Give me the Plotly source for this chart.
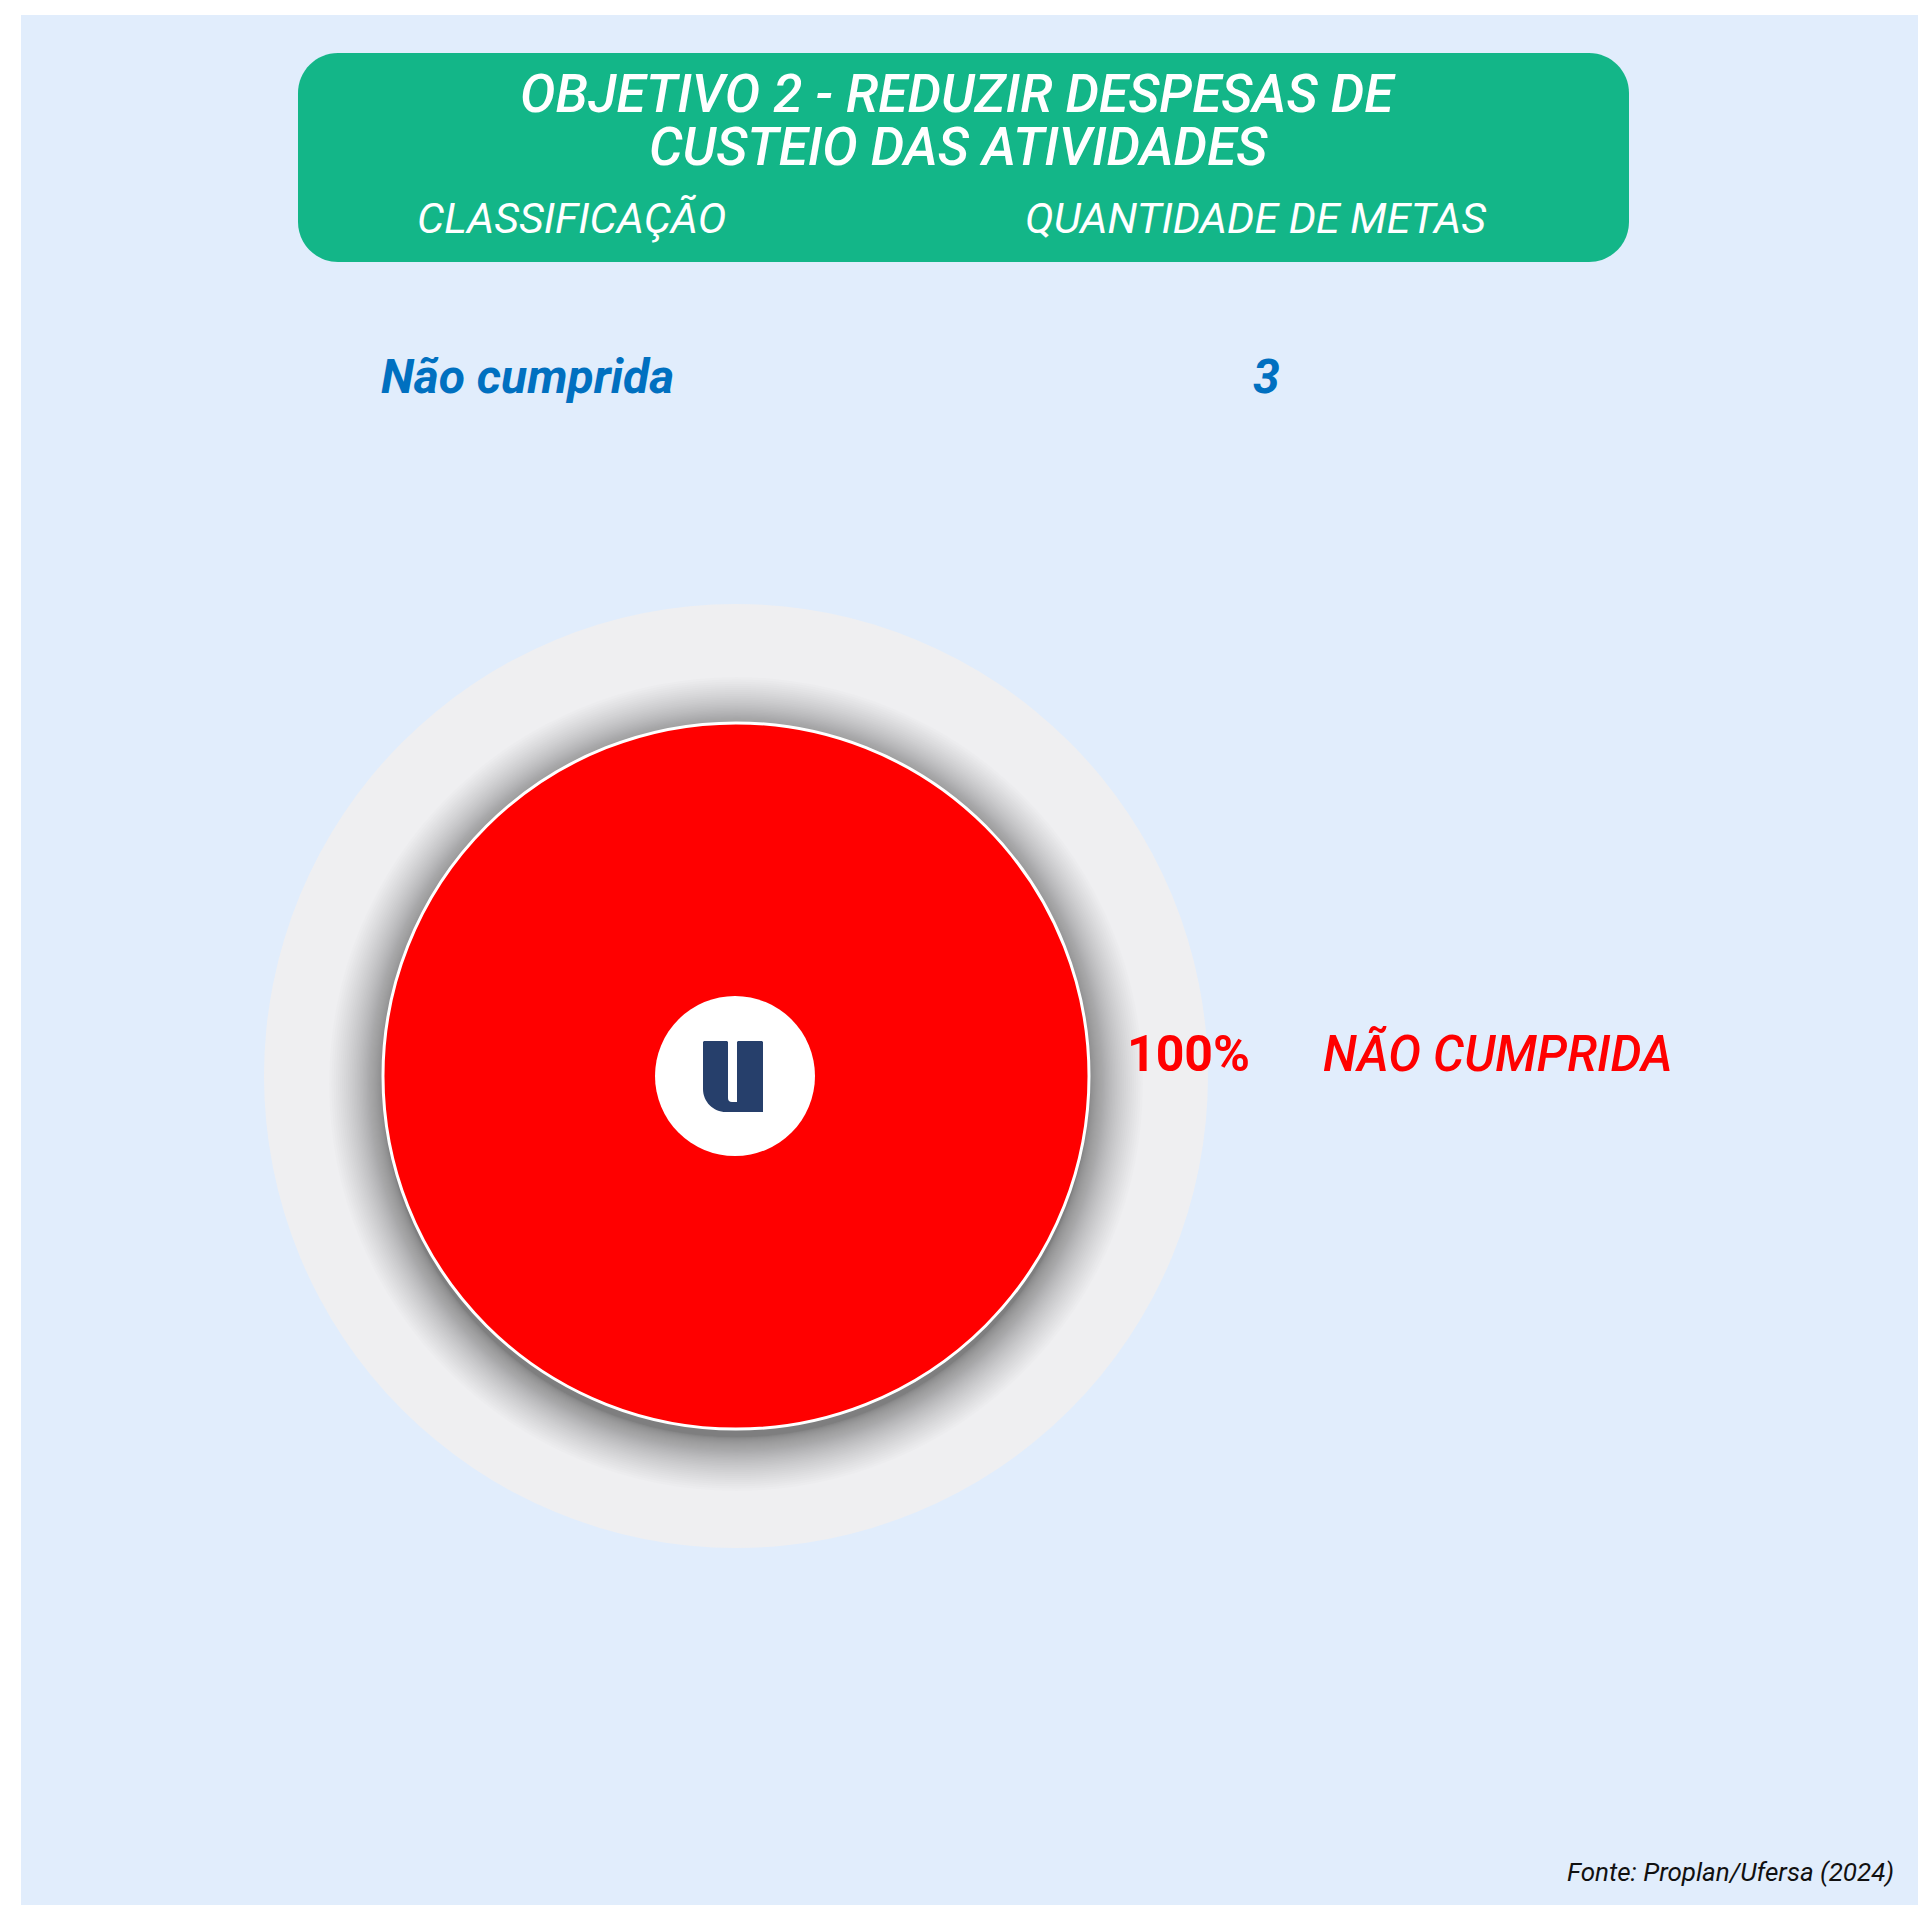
import plotly.graph_objects as go

# ---------------- data ----------------
title_lines = ["OBJETIVO 2 - REDUZIR DESPESAS DE", "CUSTEIO DAS ATIVIDADES"]
header_labels = ["CLASSIFICAÇÃO", "QUANTIDADE DE METAS"]
categories = ["Não cumprida"]
metas = [3]
slice_colors = ["#FF0000"]
source_text = "Fonte: Proplan/Ufersa (2024)"

# ---------------- geometry helpers ----------------
W, H = 1918, 1897


def px(x):
    return x / W


def py(y):
    return 1 - y / H


BG = "#E1EDFC"
GREEN = "#13B688"
BLUE_TXT = "#0070C0"
RED = "#FF0000"
NAVY = "#263F6B"
RING = "#EFEFF1"

cx, cy, r_pie, r_ring = 728, 1068, 353, 472

shapes = []
# page background panel
shapes.append(dict(type="rect", xref="paper", yref="paper", x0=px(13), x1=px(W), y0=py(H), y1=py(7),
                   fillcolor=BG, line=dict(width=0), layer="below"))

# green header box with rounded corners
bx0, bx1, by0, by1, rad = 290, 1621, 45, 254, 40
k = 0.5523 * rad


def P(x, y):
    return f"{px(x):.6f},{py(y):.6f}"


path = (f"M{P(bx0 + rad, by0)} L{P(bx1 - rad, by0)} "
        f"C{P(bx1 - rad + k, by0)} {P(bx1, by0 + rad - k)} {P(bx1, by0 + rad)} "
        f"L{P(bx1, by1 - rad)} "
        f"C{P(bx1, by1 - rad + k)} {P(bx1 - rad + k, by1)} {P(bx1 - rad, by1)} "
        f"L{P(bx0 + rad, by1)} "
        f"C{P(bx0 + rad - k, by1)} {P(bx0, by1 - rad + k)} {P(bx0, by1 - rad)} "
        f"L{P(bx0, by0 + rad)} "
        f"C{P(bx0, by0 + rad - k)} {P(bx0 + rad - k, by0)} {P(bx0 + rad, by0)} Z")
shapes.append(dict(type="path", xref="paper", yref="paper", path=path,
                   fillcolor=GREEN, line=dict(width=0), layer="below"))

# outer light ring
shapes.append(dict(type="circle", xref="paper", yref="paper",
                   x0=px(cx - r_ring), x1=px(cx + r_ring), y0=py(cy + r_ring), y1=py(cy - r_ring),
                   fillcolor=RING, line=dict(width=0), layer="below"))

# soft shadow around the pie
N = 45
spread = 54
alpha = 0.0125
oy = 8
for i in range(N):
    t = 1 - i / N
    d = spread * t ** 1.9
    rr = r_pie + d
    shapes.append(dict(type="circle", xref="paper", yref="paper",
                       x0=px(cx - rr), x1=px(cx + rr), y0=py(cy + oy + rr), y1=py(cy + oy - rr),
                       fillcolor=f"rgba(0,0,0,{alpha})", line=dict(width=0), layer="below"))

# centre logo (white disc with "U" mark)
r_logo = 80
shapes.append(dict(type="circle", xref="paper", yref="paper",
                   x0=px(cx - 1 - r_logo), x1=px(cx - 1 + r_logo), y0=py(cy + r_logo), y1=py(cy - r_logo),
                   fillcolor="white", line=dict(width=0), layer="above"))
ux0, ux1, uy0, uy1 = 695, 755, 1033, 1104
sx0, sx1, sy1 = 720, 729, 1094
cr = 23
kc = 0.5523 * cr
upath = (f"M{P(ux0 + 1, uy0)} L{P(sx0 - 1, uy0)} L{P(sx0, uy0 + 1)} L{P(sx0, sy1 - 4)} "
         f"Q{P(sx0, sy1)} {P(sx0 + 4, sy1)} L{P(sx1, sy1)} L{P(sx1, uy0 + 1)} L{P(sx1 + 1, uy0)} "
         f"L{P(ux1 - 1, uy0)} L{P(ux1, uy0 + 1)} L{P(ux1, uy1)} L{P(ux0 + cr, uy1)} "
         f"C{P(ux0 + cr - kc, uy1)} {P(ux0, uy1 - cr + kc)} {P(ux0, uy1 - cr)} "
         f"L{P(ux0, uy0 + 1)} Z")
shapes.append(dict(type="path", xref="paper", yref="paper", path=upath,
                   fillcolor=NAVY, line=dict(width=0), layer="above"))

# ---------------- pie ----------------
pie = go.Pie(
    labels=categories,
    values=metas,
    marker=dict(colors=slice_colors, line=dict(color="white", width=3)),
    textinfo="none",
    sort=False,
    direction="clockwise",
    rotation=90,
    hole=0,
    showlegend=False,
    domain=dict(x=[px(cx - r_pie), px(cx + r_pie)], y=[py(cy + r_pie), py(cy - r_pie)]),
    hovertemplate="%{label}: %{value}<extra></extra>",
)

fig = go.Figure(pie)

total = sum(metas)
pct_text = f"{round(100 * metas[0] / total)}%"

FONT = "Roboto"
ann = []


def add(text, x, y, size, color, weight=400, italic=True, xanchor="center"):
    ann.append(dict(text=text, x=px(x), y=py(y), xref="paper", yref="paper",
                    xanchor=xanchor, yanchor="middle", showarrow=False,
                    font=dict(family=FONT, size=size, color=color, weight=weight,
                              style="italic" if italic else "normal")))


add(title_lines[0], 950, 86.5, 53, "white", weight=500)
add(title_lines[1], 950, 139.5, 53, "white", weight=500)
add(header_labels[0], 563, 209.5, 43, "white", weight=400)
add(header_labels[1], 1247, 209.5, 43, "white", weight=400)
add(categories[0], 371, 368.5, 48, BLUE_TXT, weight=700, xanchor="left")
add(str(metas[0]), 1258, 368.5, 48, BLUE_TXT, weight=700)
add(pct_text, 1180.5, 1046, 50, RED, weight=700, italic=False)
add(categories[0].upper(), 1489.5, 1046, 49, RED, weight=500)
add(source_text, 1888, 1864, 26, "#111111", weight=400, xanchor="right")

fig.update_layout(
    width=W, height=H,
    margin=dict(l=0, r=0, t=0, b=0),
    paper_bgcolor="white",
    plot_bgcolor="white",
    shapes=shapes,
    annotations=ann,
    font=dict(family=FONT),
)

fig.write_html("out.html")
